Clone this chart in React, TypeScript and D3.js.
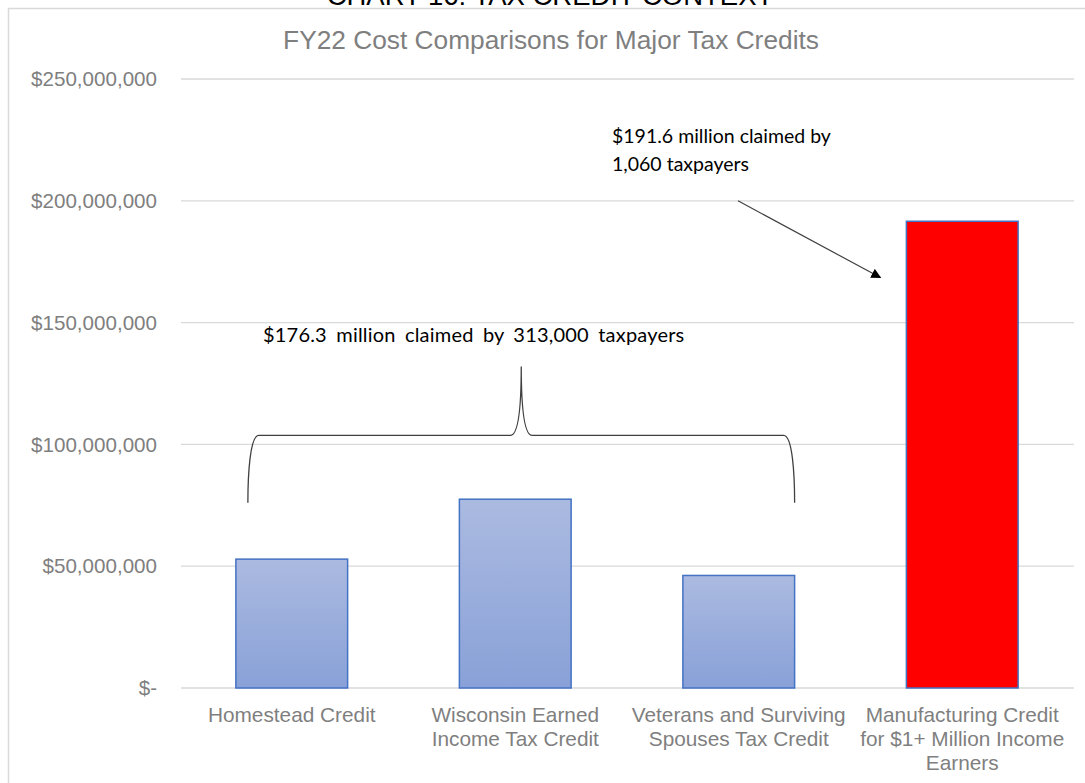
import React from "react";
import * as d3 from "d3";

const categoryLines: string[][] = [
  ["Homestead Credit"],
  ["Wisconsin Earned", "Income Tax Credit"],
  ["Veterans and Surviving", "Spouses Tax Credit"],
  ["Manufacturing Credit", "for $1+ Million Income", "Earners"],
];
const categories = categoryLines.map((l) => l.join(" "));
const values = [52.9e6, 77.5e6, 46.2e6, 191.6e6];
const highlight = [false, false, false, true];
const yTicks = [0, 50e6, 100e6, 150e6, 200e6, 250e6];
const yTickLabels = ["$-", "$50,000,000", "$100,000,000", "$150,000,000", "$200,000,000", "$250,000,000"];
const pageTitle = "CHART 16: TAX CREDIT CONTEXT";
const chartTitle = "FY22 Cost Comparisons for Major Tax Credits";
const noteGroup = ["$176.3 million claimed by 313,000 taxpayers"];
const noteManuf = ["$191.6 million claimed by", "1,060 taxpayers"];

const W = 1085;
const H = 783;

export default function App() {
  const x = d3.scaleBand<string>().domain(categories).range([180, 1074]).paddingInner(0.5).paddingOuter(0.25);
  const y = d3.scaleLinear().domain([0, 250e6]).range([688, 79]);
  const gx0 = 181;
  const gx1 = 1074;

  const bx0 = (x(categories[0]) as number) + 12;
  const bx1 = (x(categories[2]) as number) + x.bandwidth();
  const bmid = (bx0 + bx1) / 2;
  const by = y(103.7e6);
  const byBottom = y(76e6);
  const byTip = y(132e6);
  const brace =
    `M${bx0},${byBottom} C${bx0},${by + 40} ${bx0 + 2},${by} ${bx0 + 11},${by} ` +
    `L${bmid - 11},${by} C${bmid - 3},${by} ${bmid},${by - 30} ${bmid},${byTip} ` +
    `C${bmid},${by - 30} ${bmid + 3},${by} ${bmid + 11},${by} ` +
    `L${bx1 - 11},${by} C${bx1 - 2},${by} ${bx1},${by + 40} ${bx1},${byBottom}`;

  const arrowX0 = 738;
  const arrowY0 = y(200e6);
  const arrowX1 = (x(categories[3]) as number) - 26;
  const arrowY1 = y(168.5e6);

  const sans = "Liberation Sans, Arial, sans-serif";
  const note = "Lato, Carlito, Calibri, sans-serif";

  return (
    <svg width={W} height={H} style={{ position: "absolute", left: 0, top: 0, background: "#fff" }}>
      <defs>
        <linearGradient id="barGrad" x1="0" y1="0" x2="0" y2="1">
          <stop offset="0" stopColor="#abbae0" />
          <stop offset="1" stopColor="#89a1d8" />
        </linearGradient>
        <marker id="arrowHead" viewBox="0 0 10 10" refX="9" refY="5" markerWidth="10" markerHeight="10" orient="auto" markerUnits="userSpaceOnUse">
          <path d="M0,0 L10,5 L0,10 Z" fill="#000" />
        </marker>
      </defs>
      <rect x={0} y={0} width={W} height={H} fill="#fff" />
      <text x={550} y={5} textAnchor="middle" fontFamily={sans} fontSize={27.5} fill="#000">
        {pageTitle}
      </text>
      <line x1={8} y1={8.5} x2={W} y2={8.5} stroke="#d9d9d9" strokeWidth={1.5} />
      <line x1={8.5} y1={8} x2={8.5} y2={H} stroke="#d9d9d9" strokeWidth={1.5} />

      <text x={551} y={49} textAnchor="middle" fontFamily={sans} fontSize={26.3} fill="#7f7f7f">
        {chartTitle}
      </text>

      {yTicks.map((t, i) => (
        <g key={t}>
          <line x1={gx0} x2={gx1} y1={y(t)} y2={y(t)} stroke="#d9d9d9" strokeWidth={1.3} />
          <text x={157} y={y(t)} dy="0.35em" textAnchor="end" fontFamily={sans} fontSize={20.6} fill="#7f7f7f">
            {yTickLabels[i]}
          </text>
        </g>
      ))}

      {categories.map((c, i) => (
        <rect
          key={c}
          x={x(c)}
          y={y(values[i])}
          width={x.bandwidth()}
          height={y(0) - y(values[i])}
          fill={highlight[i] ? "#ff0000" : "url(#barGrad)"}
          stroke="#4472c4"
          strokeWidth={1.5}
        />
      ))}

      {categories.map((c, i) => (
        <text key={c} textAnchor="middle" fontFamily={sans} fontSize={20.8} fill="#7f7f7f">
          {categoryLines[i].map((ln, j) => (
            <tspan key={j} x={(x(c) as number) + x.bandwidth() / 2} y={722 + j * 24}>
              {ln}
            </tspan>
          ))}
        </text>
      ))}

      <path d={brace} fill="none" stroke="#404040" strokeWidth={1.3} />
      <text x={263} y={342} fontFamily={note} fontSize={20} wordSpacing={4} letterSpacing={0.2} fill="#000">
        {noteGroup[0]}
      </text>

      <line x1={arrowX0} y1={arrowY0} x2={arrowX1} y2={arrowY1} stroke="#404040" strokeWidth={1.2} markerEnd="url(#arrowHead)" />
      {noteManuf.map((ln, j) => (
        <text key={j} x={612} y={143 + j * 28} fontFamily={note} fontSize={19.5} fill="#000">
          {ln}
        </text>
      ))}
    </svg>
  );
}
